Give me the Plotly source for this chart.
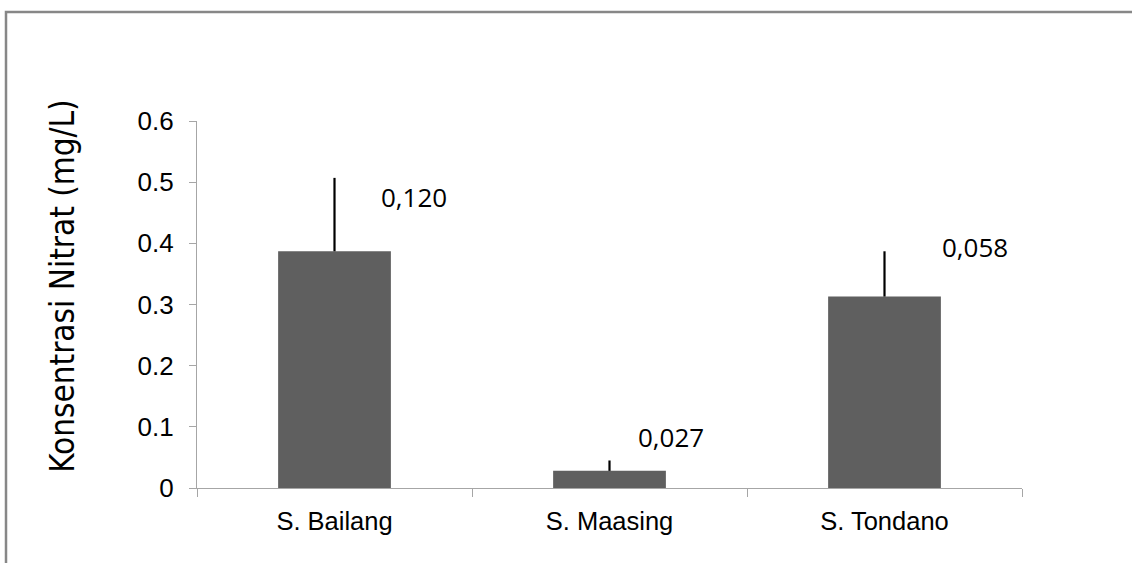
import plotly.graph_objects as go

categories = ["S. Bailang", "S. Maasing", "S. Tondano"]
values = [0.387, 0.028, 0.313]
errors = [0.120, 0.017, 0.074]
labels = ["0,120", "0,027", "0,058"]
y_ticks = [0, 0.1, 0.2, 0.3, 0.4, 0.5, 0.6]

fig = go.Figure()
fig.add_trace(go.Bar(
    x=categories, y=values, width=0.41,
    marker=dict(color="#5F5F5F", line=dict(width=0)),
    error_y=dict(type="data", symmetric=False, array=errors,
                 arrayminus=[0] * len(errors), color="black",
                 thickness=2.2, width=0),
    showlegend=False,
))

# label positions (style only)
label_dx = [0.29, 0.225, 0.33]
label_dy = [-0.031, 0.039, 0.007]
for i, (c, v, e, t) in enumerate(zip(categories, values, errors, labels)):
    fig.add_annotation(x=i + label_dx[i], y=v + e + label_dy[i], xref="x", yref="y",
                       text=t, showarrow=False,
                       font=dict(family="Open Sans", size=26, color="black"),
                       xanchor="center", yanchor="middle")

fig.add_annotation(x=-0.164, y=0.55, xref="paper", yref="paper",
                   text="Konsentrasi Nitrat (mg/L)", textangle=-90, showarrow=False,
                   font=dict(family="DejaVu Sans Condensed", size=33, color="black"),
                   xanchor="center", yanchor="middle")

fig.add_shape(type="rect", xref="paper", yref="paper",
              x0=(6 - 197) / 825, x1=1.2, y0=-0.3, y1=(488 - 12) / 367,
              line=dict(color="#878787", width=2.5), fillcolor="rgba(0,0,0,0)", layer="below")

fig.update_layout(
    width=1132, height=563,
    margin=dict(l=197, r=110, t=121, b=75),
    plot_bgcolor="white", paper_bgcolor="white",
    font=dict(family="Liberation Sans, Arial", size=24, color="black"),
    bargap=0.59,
)
fig.update_xaxes(type="category", range=[-0.5, 2.5], showline=True, linecolor="#A6A6A6",
                 linewidth=1.3, ticks="outside", tickson="boundaries", ticklen=8,
                 tickcolor="#A6A6A6", showgrid=False, zeroline=False,
                 ticklabelstandoff=10, tickfont=dict(size=25.5))
fig.update_yaxes(range=[0, 0.6], tickvals=y_ticks, ticktext=[f"{v:g}" for v in y_ticks],
                 showline=True, linecolor="#A6A6A6", linewidth=1.3, ticks="outside",
                 ticklen=7, tickcolor="#A6A6A6", showgrid=False, zeroline=False,
                 ticklabelstandoff=10, tickfont=dict(size=26))

fig.write_html("out.html", config={"displayModeBar": False},
               post_script="document.body.style.margin='0';document.body.style.overflow='hidden';")
